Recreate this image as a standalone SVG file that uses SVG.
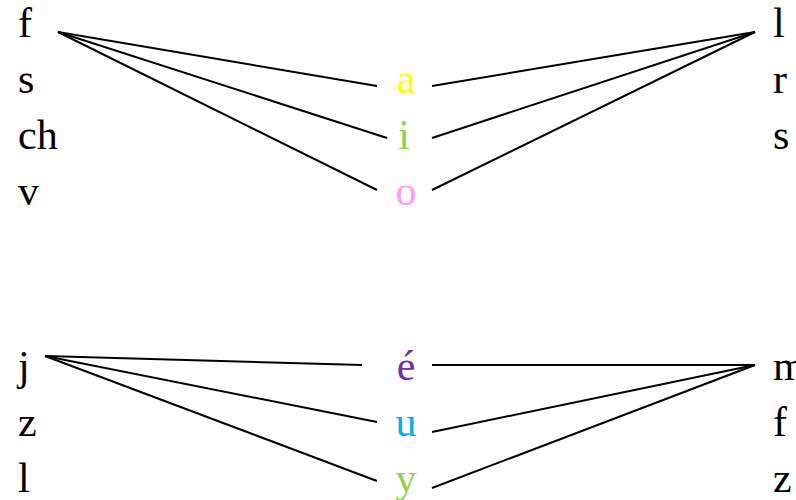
<svg xmlns="http://www.w3.org/2000/svg" width="796" height="500" viewBox="0 0 796 500">
<style>
text{font-family:"Liberation Serif","Times New Roman",serif;font-size:42px;fill:#000}
.v{text-anchor:middle}
.edges line{stroke:#000;stroke-width:2}
</style>
<rect width="796" height="500" fill="#fff"/>
<g class="edges">
<line x1="58" y1="32" x2="377" y2="86"/>
<line x1="58" y1="32" x2="387" y2="138"/>
<line x1="58" y1="32" x2="377" y2="190"/>
<line x1="432" y1="86" x2="755" y2="32"/>
<line x1="432" y1="138" x2="755" y2="32"/>
<line x1="432" y1="190" x2="755" y2="32"/>
<line x1="45" y1="356" x2="362" y2="365"/>
<line x1="45" y1="356" x2="377" y2="422"/>
<line x1="45" y1="356" x2="377" y2="481"/>
<line x1="432" y1="365" x2="755" y2="365"/>
<line x1="432" y1="432" x2="755" y2="365"/>
<line x1="432" y1="488" x2="755" y2="365"/>
</g>
<g id="left-top"><text x="18" y="37">f</text><text x="18" y="93">s</text><text x="18" y="149">ch</text><text x="18" y="205">v</text></g>
<g id="a"><text class="v" x="406" y="93" style="fill:#ffff00">a</text></g>
<g id="i"><text class="v" x="404" y="149" style="fill:#92d050">i</text></g>
<g id="o"><text class="v" x="406" y="205" style="fill:#ff99ff">o</text></g>
<g id="right-top"><text x="773" y="37">l</text><text x="773" y="93">r</text><text x="773" y="149">s</text></g>
<g id="left-bottom"><text x="18" y="380">j</text><text x="18" y="436">z</text><text x="18" y="492">l</text></g>
<g id="e"><text class="v" x="406" y="380" style="fill:#7030a0">é</text></g>
<g id="u"><text class="v" x="406" y="436" style="fill:#00b0f0">u</text></g>
<g id="y"><text class="v" x="406" y="492" style="fill:#92d050">y</text></g>
<g id="right-bottom"><text x="773" y="380">m</text><text x="773" y="436">f</text><text x="773" y="492">z</text></g>
</svg>
